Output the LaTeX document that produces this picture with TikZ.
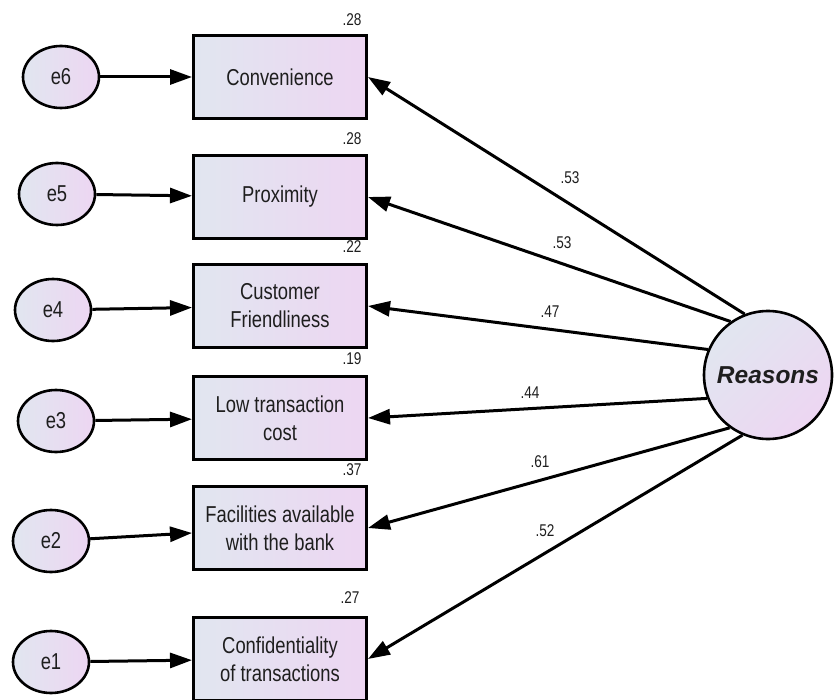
\documentclass[tikz,border=0pt]{standalone}
\usepackage{fontspec}
\setmainfont{Liberation Sans}
\newfontfamily\boxfont[FakeStretch=0.8]{Liberation Sans}
\newfontfamily\numfont[FakeStretch=0.8]{Liberation Sans}
\usetikzlibrary{arrows.meta,shapes.geometric}
\definecolor{shadeL}{RGB}{225,230,240}
\definecolor{shadeR}{RGB}{237,214,242}
\definecolor{txt}{RGB}{30,30,30}
\begin{document}
\begin{tikzpicture}[x=1pt,y=-1pt,
  obs/.style={draw=black, line width=3pt, rectangle, minimum width=173pt, minimum height=83pt,
    left color=shadeL, right color=shadeR, align=center, inner sep=0pt,
    font=\boxfont\fontsize{23}{28}\selectfont, text=txt},
  err/.style={draw=black, line width=2.6pt, ellipse, minimum width=76pt, minimum height=62pt,
    left color=shadeL, right color=shadeR, inner sep=0pt,
    font=\boxfont\fontsize{23}{28}\selectfont, text=txt},
  lat/.style={draw=black, line width=2.6pt, circle, minimum size=128pt, inner sep=0pt,
    top color=shadeL, bottom color=shadeR, shading angle=45,
    font=\bfseries\itshape\fontsize{24.5}{28}\selectfont, text=txt},
  conn/.style={line width=3pt, -{Triangle[length=22pt,width=15pt]}},
  num/.style={font=\numfont\fontsize{17}{20}\selectfont, text=txt, inner sep=0pt}
]
\useasboundingbox (0,0) rectangle (834,700);

% error terms
\node[err] (e6) at (61,77) {e6};
\node[err] (e5) at (57,194) {e5};
\node[err] (e4) at (53,310) {e4};
\node[err] (e3) at (56,421) {e3};
\node[err] (e2) at (51,541) {e2};
\node[err] (e1) at (51,662) {e1};

% observed variables
\node[obs] (conv) at (280,77) {Convenience};
\node[obs] (prox) at (280,197) {Proximity};
\node[obs] (cust) at (280,306) {Customer\\Friendliness};
\node[obs] (low)  at (280,418) {Low transaction\\cost};
\node[obs] (fac)  at (280,528) {Facilities available\\with the bank};
\node[obs] (conf) at (280,659) {Confidentiality\\of transactions};

% latent
\node[lat] (R) at (768,375) {Reasons};

% error arrows
\draw[conn] (e6) -- (conv);
\draw[conn] (e5) -- (prox);
\draw[conn] (e4) -- (cust);
\draw[conn] (e3) -- (low);
\draw[conn] (e2) -- (fac);
\draw[conn] (e1) -- (conf);

% loadings
\draw[conn] (R.111) -- (conv.east);
\draw[conn] (R.125) -- (prox.east);
\draw[conn] (R.157) -- (cust.east);
\draw[conn] (R.201) -- (low.east);
\draw[conn] (R.234) -- (fac.east);
\draw[conn] (R.247) -- (conf.east);

% loading labels
\node[num] (l1) at (570,178) {.53};
\node[num] (l2) at (562,243) {.53};
\node[num] (l3) at (550,312) {.47};
\node[num] (l4) at (530,393) {.44};
\node[num] (l5) at (540,462) {.61};
\node[num] (l6) at (545,531) {.52};

% squared multiple correlations
\node[num] (r1) at (352,20) {.28};
\node[num] (r2) at (352,139) {.28};
\node[num] (r3) at (352,247) {.22};
\node[num] (r4) at (352,359) {.19};
\node[num] (r5) at (352,470) {.37};
\node[num] (r6) at (350,598) {.27};
\end{tikzpicture}
\end{document}
